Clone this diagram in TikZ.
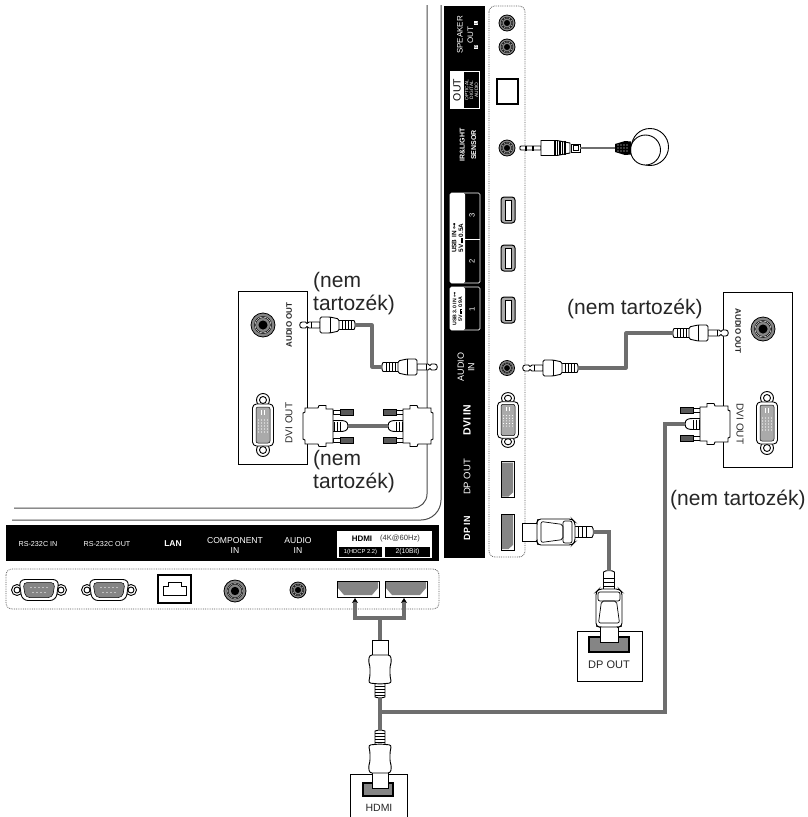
\documentclass[tikz,border=0pt]{standalone}
\usepackage{fontspec}
\setmainfont{Liberation Sans}
\newfontfamily\symfont{DejaVu Sans}
\newcommand{\dcmark}{\rlap{\rule[2.1pt]{5pt}{.45pt}}\rule[.7pt]{1.4pt}{.45pt}\hspace{.4pt}\rule[.7pt]{1.4pt}{.45pt}\hspace{.4pt}\rule[.7pt]{1.4pt}{.45pt}}
\usetikzlibrary{arrows.meta}
\definecolor{cablegray}{HTML}{6E6E6E}
\definecolor{portgray}{HTML}{858585}
\tikzset{
  plugline/.style={draw=black,fill=white,line width=.9pt},
  cable/.style={draw=cablegray,line width=3.2pt},
  framebox/.style={draw=black,fill=white,line width=.9pt},
  panel/.style={fill=black,draw=none},
  dottedbox/.style={draw=black!65,densely dotted,line width=.8pt,rounded corners=6pt},
  wt/.style={text=white,align=center,inner sep=0pt,font=\fontsize{7.6}{10}\selectfont},
  bk/.style={text=black!85,align=center,inner sep=0pt,font=\fontsize{10}{12}\selectfont},
  note/.style={text=black!85,align=left,inner sep=0pt,anchor=west,font=\fontsize{21}{23}\selectfont},
  jackport/.pic={
    \draw[black,fill=portgray,line width=.8pt] (0,0) circle (#1);
    \draw[black,fill=white,line width=.5pt] (0,0) circle (#1*.72);
    \draw[black,fill=portgray,line width=.5pt] (0,0) circle (#1*.62);
    \fill[black] (0,0) circle (#1*.38);
  },
  usbport/.pic={
    \draw[black,fill=portgray!70,line width=1pt,rounded corners=3pt] (-7,-13) rectangle (7,13);
    \draw[black,fill=white,line width=.5pt] (-3,-10) rectangle (3,10);
  },
  dviport/.pic={
    \draw[plugline] (0,-25) circle (6.5);
    \draw[plugline] (0,25) circle (6.5);
    \draw[plugline] (0,-25) circle (3.5);
    \draw[plugline] (0,25) circle (3.5);
    \draw[plugline,rounded corners=4pt] (-10.5,-21) rectangle (10.5,21);
    \draw[black,fill=portgray!70,line width=.5pt,rounded corners=2pt] (-7,-18) rectangle (7,18);
    \foreach \yy in {-5,-2,...,7} \foreach \xx in {-4.5,-1.5,1.5,4.5}
      \fill[white] (\xx,\yy) circle (.65);
    \fill[white] (-1.8,-15) rectangle (-.8,-10);
    \fill[white] (.8,-15) rectangle (1.8,-10);
  },
  dpport/.pic={
    \draw[black,fill=white,line width=1pt] (-6.5,-18) rectangle (6.5,18);
    \fill[portgray] (-5.5,-17) -- (5.5,-17) -- (5.5,13) -- (1,17) -- (-5.5,17) -- cycle;
  },
  hdmiport/.pic={
    \draw[black,fill=white,line width=1pt] (-21,-8) rectangle (21,8);
    \fill[portgray] (-20,-7) -- (20,-7) -- (20,-1) -- (14,6) -- (-14,6) -- (-20,-1) -- cycle;
  },
  serialport/.pic={
    \draw[plugline] (-22,0) circle (5.5);
    \draw[plugline] (22,0) circle (5.5);
    \draw[plugline] (-22,0) circle (3);
    \draw[plugline] (22,0) circle (3);
    \draw[plugline,rounded corners=6pt] (-20,-10.5) -- (20,-10.5) -- (17,10.5) -- (-17,10.5) -- cycle;
    \draw[black,fill=portgray,line width=.5pt,rounded corners=4pt] (-16,-7.5) -- (16,-7.5) -- (13.5,7.5) -- (-13.5,7.5) -- cycle;
    \foreach \xx in {-8,-4,0,4,8} \fill[white] (\xx,-2.5) circle (.55);
    \foreach \xx in {-6,-2,2,6} \fill[white] (\xx,2.5) circle (.55);
  },
  jackplug/.pic={
    \draw[plugline] (20,-3) -- (9,-3) -- (7,-1.5) -- (5.5,-3) -- (2,-3) .. controls (-1,-3) and (-1,3) .. (2,3) -- (5.5,3) -- (7,1.5) -- (9,3) -- (20,3) -- cycle;
    \draw[plugline] (11,-3) -- (11,3);
    \draw[plugline] (37,-4.5) -- (54,-4.5) .. controls (55.5,-3) and (55.5,3) .. (54,4.5) -- (37,4.5) -- cycle;
    \foreach \xx in {42,45,48,51} \draw[black,line width=.7pt] (\xx,-4.5) -- (\xx,4.5);
    \draw[plugline,rounded corners=1.5pt] (20,-8) -- (30,-8) -- (39,-6) -- (39,6) -- (30,8) -- (20,8) -- cycle;
    \draw[black,line width=.7pt] (30,-8) -- (30,8);
    \coordinate (-cable) at (55,0);
  },
  irplug/.pic={
    \draw[plugline] (20,-2) -- (0,-2) .. controls (-1.5,-2) and (-1.5,2) .. (0,2) -- (20,2) -- cycle;
    \fill[black] (4,-2.5) rectangle (5.5,2.5);
    \fill[black] (11,-2.5) rectangle (12.5,2.5);
    \draw[plugline] (50,-4) rectangle (59,4);
    \draw[plugline] (52,-2.5) rectangle (57,2.5);
    \draw[plugline] (20,-7.5) -- (36,-7.5) -- (49,-5) -- (49,5) -- (36,7.5) -- (20,7.5) -- cycle;
    \foreach \xx in {34,36.5,39,41.5,44} \draw[black,line width=1.1pt] (\xx,-7.2) -- (\xx,7.2);
    \coordinate (-cable) at (59,0);
  },
  irsensor/.pic={
    \draw[plugline] (20,-1) circle (18.5);
    \draw[plugline] (15.5,2) circle (15);
    \fill[black] (-15,-4) -- (-5,-7) -- (1,-6.5) -- (1,6.5) -- (-5,7) -- (-15,4) -- cycle;
    \foreach \xx in {-12,-9,-6,-3} \foreach \yy in {-3,0,3} \fill[white] (\xx,\yy) circle (.7);
    \coordinate (-cable) at (-15,0);
  },
  dviplug/.pic={
    \draw[plugline,fill=white] (-15,0) .. controls (-15,-5) and (-11,-5.5) .. (-7,-5.5) -- (0,-5.5) -- (0,5.5) -- (-7,5.5) .. controls (-11,5.5) and (-15,5) .. (-15,0) -- cycle;
    \foreach \xx in {-7,-4,-1} \draw[black,line width=.7pt] (\xx,-4.5) -- (\xx,4.5);
    \foreach \yy in {-14,14}{
      \draw[black,fill=white,line width=.7pt] (-7,\yy-2) rectangle (0,\yy+2);
      \draw[black,fill=black!65,line width=.7pt] (-20,\yy-3) rectangle (-7,\yy+3);
    }
    \draw[plugline] (0,-17) -- (7,-17) -- (7,-20.5) -- (14,-20.5) -- (15,-18) -- (28,-18) -- (28,-14) -- (30,-13) -- (30,13) -- (28,14) -- (28,18) -- (15,18) -- (14,20.5) -- (7,20.5) -- (7,17) -- (0,17) -- cycle;
    \coordinate (-cable) at (-15,0);
  },
  dpplug/.pic={
    \draw[plugline] (0,-9) rectangle (16,9);
    \draw[plugline] (52,-5.5) -- (70,-5.5) .. controls (72,-3) and (72,3) .. (70,5.5) -- (52,5.5) -- cycle;
    \foreach \xx in {56,60,64} \draw[black,line width=.7pt] (\xx,-5.5) -- (\xx,5.5);
    \draw[plugline,rounded corners=3pt] (15,-10) -- (16,-13) -- (50,-13) -- (53,-10) -- (53,10) -- (50,13) -- (16,13) -- (15,10) -- cycle;
    \draw[black,line width=.7pt,rounded corners=2pt] (19,-10.5) -- (41,-7.5) -- (41,7.5) -- (19,10.5) -- cycle;
    \draw[black,line width=.7pt,rounded corners=2pt] (41,-11) -- (50,-11) -- (50,11) -- (41,11) -- cycle;
    \coordinate (-cable) at (71,0);
  },
  hdmiplug/.pic={
    \draw[plugline] (0,-8) rectangle (16,8);
    \draw[plugline] (43,-5) -- (57,-5) .. controls (58,-3) and (58,3) .. (57,5) -- (43,5) -- cycle;
    \foreach \xx in {46,49,52,55} \draw[black,line width=.7pt] (\xx,-5) -- (\xx,5);
    \draw[plugline,rounded corners=2.5pt] (15,-10.5) -- (22,-11.5) -- (26,-10) -- (36,-10) -- (43,-11.5) -- (44,0) -- (43,11.5) -- (36,10) -- (26,10) -- (22,11.5) -- (15,10.5) -- cycle;
    \coordinate (-cable) at (57,0);
    \coordinate (-tip) at (0,0);
  },
}
\begin{document}
\begin{tikzpicture}[x=1pt,y=-1pt]
\useasboundingbox (0,0) rectangle (808,817);
\fill[white] (0,0) rectangle (808,817);

% bezel lines
\coordinate (bezelInA) at (427,5);
\coordinate (bezelInB) at (14,508);
\coordinate (bezelOutA) at (441,5);
\coordinate (bezelOutB) at (12,520);
\draw[black!70,line width=1pt,rounded corners=14pt] (bezelInA) |- (bezelInB);
\draw[black!70,line width=1pt,rounded corners=20pt] (bezelOutA) |- (bezelOutB);

% panels
\fill[panel] (444,6) rectangle (485,558);
\fill[panel] (6,525) rectangle (439,561);
\draw[dottedbox] (489,6) rectangle (525,557);
\draw[dottedbox] (6,569) rectangle (439,609);

% vertical panel labels
\node[wt,rotate=90,font=\fontsize{8}{10.5}\selectfont] (speaker) at (465,35) {SPEAKER\\OUT};
\node[fill=white,text=black,inner sep=.7pt,rotate=90,font=\fontsize{4.5}{4.5}\selectfont] (spkL) at (476,23) {L};
\node[fill=white,text=black,inner sep=.7pt,rotate=90,font=\fontsize{4.5}{4.5}\selectfont] (spkR) at (476,47) {R};
\fill[white] (450,71) rectangle (480,109);
\fill[black] (464,72) rectangle (479,108);
\node[text=black,inner sep=0pt,rotate=90,font=\fontsize{10.5}{11}\selectfont] (outL) at (457,90) {OUT};
\node[wt,rotate=90,font=\fontsize{4.8}{4.9}\selectfont] (optical) at (471.5,90) {OPTICAL\\DIGITAL\\AUDIO};
\node[wt,rotate=90,font=\bfseries\fontsize{7}{11.5}\selectfont] (ir) at (468,145) {IR\&LIGHT\\SENSOR};

\draw[white,line width=.7pt,rounded corners=1.5pt,fill=black] (450,193) rectangle (480,283);
\fill[white,rounded corners=1.5pt] (450,193) rectangle (465,283);
\draw[white,line width=.7pt] (465,239) -- (480,239);
\node[text=black,align=center,inner sep=0pt,rotate=90,font=\bfseries\fontsize{6.4}{6.8}\selectfont] (usbA) at (457.5,238) {USB IN {\symfont ⊶}\\5V\,\dcmark\,0.5A};
\node[wt,rotate=90] (usb3) at (472,215) {3};
\node[wt,rotate=90] (usb2) at (472,261) {2};
\draw[white,line width=.7pt,rounded corners=1.5pt,fill=black] (450,287) rectangle (480,330);
\fill[white,rounded corners=1.5pt] (450,287) rectangle (465,330);
\node[text=black,align=center,inner sep=0pt,rotate=90,font=\bfseries\fontsize{5.2}{5.8}\selectfont] (usbB) at (457.5,309) {USB 3.0 IN {\symfont ⊶}\\5V\,\dcmark\,0.9A};
\node[wt,rotate=90] (usb1) at (472,309) {1};
\node[wt,rotate=90,font=\fontsize{9}{10.5}\selectfont] (audioin) at (466,367) {AUDIO\\IN};
\node[wt,rotate=90,font=\bfseries\fontsize{10.5}{12}\selectfont] (dviin) at (467,420) {DVI IN};
\node[wt,rotate=90,font=\fontsize{9.5}{11}\selectfont] (dpoutL) at (467,477) {DP OUT};
\node[wt,rotate=90,font=\bfseries\fontsize{9}{11}\selectfont] (dpinL) at (467,528) {DP IN};

% horizontal panel labels
\node[wt,font=\fontsize{7.2}{8}\selectfont] (rsin) at (38,544) {RS-232C IN};
\node[wt,font=\fontsize{7.2}{8}\selectfont] (rsout) at (107,544) {RS-232C OUT};
\node[wt,font=\bfseries\fontsize{8.5}{9}\selectfont] (lanL) at (173,544) {LAN};
\node[wt,font=\fontsize{8.6}{10}\selectfont] (compL) at (235,545) {COMPONENT\\IN};
\node[wt,font=\fontsize{8.6}{10}\selectfont] (audL) at (298,545) {AUDIO\\IN};
\fill[white] (337,531) rectangle (432,558);
\fill[black] (339,547) rectangle (382,557);
\fill[black] (385,547) rectangle (430,557);
\node[text=black,inner sep=0pt,font=\bfseries\fontsize{8}{9}\selectfont] (hdmiLogo) at (362,539) {HDMI};
\node[text=black!80,inner sep=0pt,font=\fontsize{7.6}{9}\selectfont] (hdmi4k) at (400,539) {(4K@60Hz)};
\node[wt,font=\fontsize{5.8}{7}\selectfont] (hdmi1L) at (360.5,552) {1(HDCP 2.2)};
\node[wt,font=\fontsize{6.8}{8}\selectfont] (hdmi2L) at (407.5,552) {2(10Bit)};

% vertical ports
\pic (spk1) at (507,23) {jackport=8};
\pic (spk2) at (507,47) {jackport=8};
\node[draw=black,line width=1.2pt,fill=white,minimum width=21pt,minimum height=25pt,inner sep=0pt] (opt) at (507.5,91.5) {};
\pic (irj) at (507,148) {jackport=8};
\pic (usb3p) at (508,210) {usbport};
\pic (usb2p) at (508,258) {usbport};
\pic (usb1p) at (508,310) {usbport};
\pic (audj) at (507,368) {jackport=7.5};
\pic[yscale=.87] (dvip) at (508,420) {dviport};
\pic (dpo) at (507.5,479.5) {dpport};
\pic (dpi) at (507.5,532) {dpport};

% horizontal ports
\pic (rs1) at (39,590) {serialport};
\pic (rs2) at (109,590) {serialport};
\node[draw=black,line width=1.4pt,fill=white,minimum width=33pt,minimum height=28pt,inner sep=0pt] (lan) at (174.5,589) {};
\draw[black,line width=.7pt] (163.5,595.5) -- (163.5,586) -- (168,586) -- (168,582.5) -- (181,582.5) -- (181,586) -- (186,586) -- (186,595.5) -- cycle;
\pic (comp) at (235,591) {jackport=11};
\pic (aud2) at (298,590) {jackport=8};
\pic (hd1) at (358,589) {hdmiport};
\pic (hd2) at (406,589) {hdmiport};

% right device box
\node[framebox,minimum width=69pt,minimum height=175pt,inner sep=0pt] (boxR) at (757.5,379.5) {};
\pic (jackR) at (763,329) {jackport=12};
\pic (dviR) at (767,423) {dviport};
\node[bk,rotate=-90,font=\bfseries\fontsize{8}{9}\selectfont] (aoR) at (738,331) {AUDIO OUT};
\node[bk,rotate=-90] (doR) at (740,424) {DVI OUT};

% left device box
\node[framebox,minimum width=69pt,minimum height=173pt,inner sep=0pt] (boxL) at (272.5,377.5) {};
\pic (jackL) at (263,325) {jackport=12};
\pic (dviL) at (263,425) {dviport};
\node[bk,rotate=90,font=\bfseries\fontsize{8}{9}\selectfont] (aoL) at (289,325) {AUDIO OUT};
\node[bk,rotate=90] (doL) at (289,423) {DVI OUT};

% DP OUT box
\node[framebox,minimum width=65pt,minimum height=50pt,inner sep=0pt] (boxDP) at (609.5,656) {};
\node[draw=black,line width=1.2pt,fill=portgray,minimum width=40pt,minimum height=15pt,inner sep=0pt] (dpoutp) at (609,644.5) {};
\node[bk,font=\fontsize{11}{12}\selectfont] (dpoutT) at (609,665) {DP OUT};

% HDMI box (open at the bottom)
\coordinate (hbA) at (350,817);
\coordinate (hbB) at (407,817);
\draw[black,line width=.9pt] (hbA) |- (407,774) -- (hbB);
\node[draw=black,line width=1.2pt,fill=portgray,minimum width=30pt,minimum height=13pt,inner sep=0pt] (hdmiout) at (378,789.5) {};
\node[bk,font=\fontsize{10.5}{12}\selectfont] (hdmiT) at (379,808) {HDMI};

% plugs
\pic (plugIR) at (521,148) {irplug};
\pic (sensor) at (630,148) {irsensor};
\pic (plugAudio) at (523,368) {jackplug};
\pic[xscale=-1] (plugAudioR) at (728,333) {jackplug};
\pic (plugAudioLa) at (300,325) {jackplug};
\pic[xscale=-1] (plugAudioLb) at (437,367) {jackplug};
\pic[xscale=-1] (plugDviA) at (333,426) {dviplug};
\pic (plugDviB) at (403,426) {dviplug};
\pic (plugDviR) at (700,424) {dviplug};
\pic (plugDpH) at (522,532) {dpplug};
\pic[rotate=90] (plugDpV) at (609,642) {dpplug};
\pic[rotate=-90] (plugHdTop) at (380,640) {hdmiplug};
\pic[rotate=90] (plugHdBot) at (380,788) {hdmiplug};

% cables
\coordinate (forkC) at (380,618);
\coordinate (forkA) at (355,598);
\coordinate (forkB) at (404,598);
\coordinate (hdJunc) at (380,712);
\coordinate (dviTurn) at (665,712);
\coordinate (audioLturn) at (372,367);
\coordinate (audioRturn) at (626,333);
\draw[cable,line width=2.2pt] (plugIR-cable) -- (sensor-cable);
\draw[cable,line join=round] (plugAudio-cable) -| (audioRturn) -- (plugAudioR-cable);
\draw[cable,line join=round] (plugAudioLa-cable) -| (audioLturn) -- (plugAudioLb-cable);
\draw[cable] (plugDviA-cable) -- (plugDviB-cable);
\draw[cable] (plugDviR-cable) -| (dviTurn) -- (hdJunc);
\draw[cable] (plugDpH-cable) -| (plugDpV-cable);
\draw[cable,-{Stealth[length=5pt,width=6pt,black]}] (forkC) -| (forkA);
\draw[cable,-{Stealth[length=5pt,width=6pt,black]}] (forkC) -| (forkB);
\draw[cable] (forkC) -- (plugHdTop-tip);
\draw[cable] (plugHdTop-cable) -- (plugHdBot-cable);

% notes
\node[note] (noteTL) at (313,293.5) {(nem\\tartozék)};
\node[note] (noteBL) at (313,471.5) {(nem\\tartozék)};
\node[note] (noteR) at (567,309) {(nem tartozék)};
\node[note] (noteLow) at (670,500) {(nem tartozék)};
\end{tikzpicture}
\end{document}
